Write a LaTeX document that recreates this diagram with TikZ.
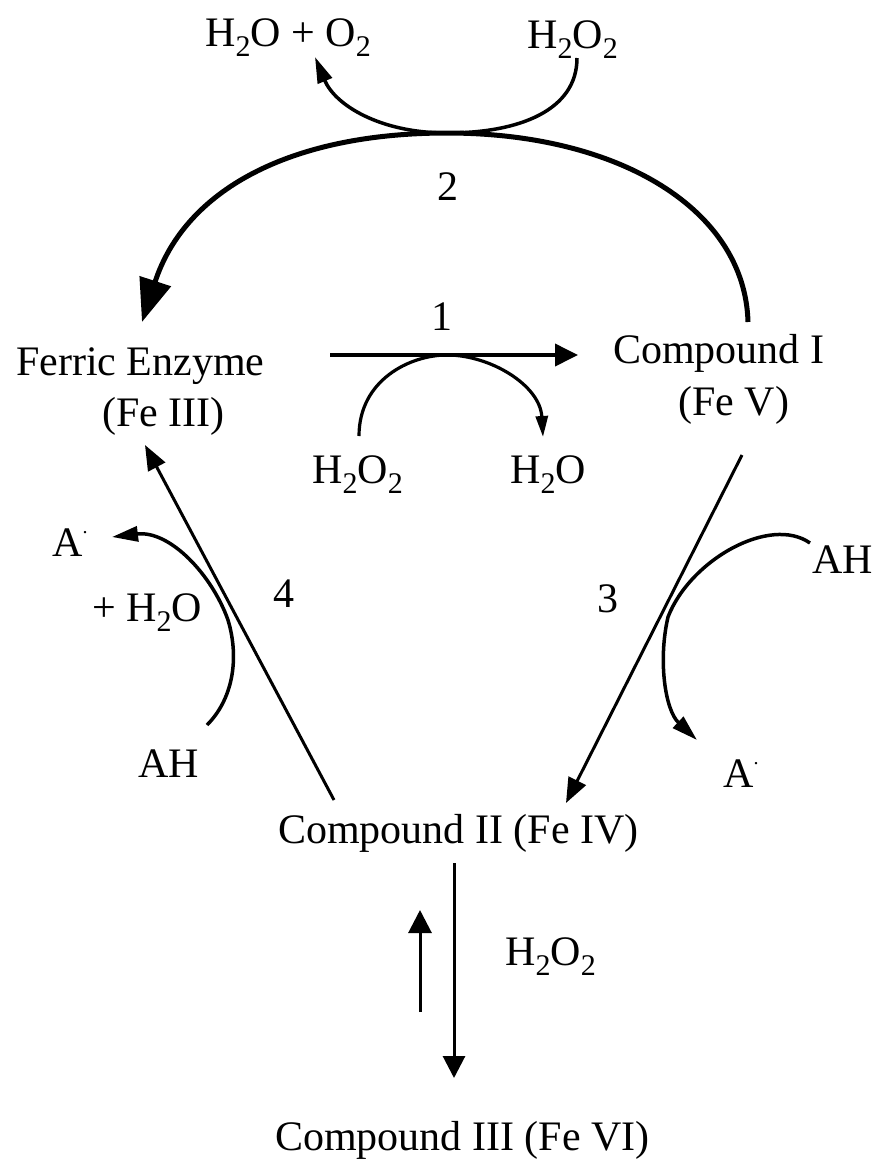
\documentclass[tikz,border=0pt]{standalone}
\usepackage{fontspec}
\setmainfont{Liberation Serif}
\usetikzlibrary{arrows.meta, calc}
\newcommand{\chsub}[1]{\raisebox{-10pt}{\fontsize{30}{30}\selectfont #1}}
\newcommand{\chdot}{\raisebox{23pt}{\fontsize{20}{20}\selectfont .}}
\tikzset{
  chem/.style={
    inner sep=0pt, anchor=base west,
    font=\fontsize{42}{48}\selectfont
  },
  cycle2/.style={-{Triangle[length=43pt, width=32pt]}, line width=5pt},
  main/.style={-{Triangle[length=23pt, width=22pt]}, line width=3.8pt},
  side/.style={-{Triangle[length=25pt, width=19pt]}, line width=3pt},
  curly/.style={-{Triangle[length=26pt, width=15pt]}, line width=3.5pt}
}

\begin{document}
\begin{tikzpicture}[x=1pt, y=-1pt]
\useasboundingbox (0,0) rectangle (872,1160);

% Species
\node[chem] (ferric) at (16,375) {Ferric Enzyme};
\node[chem] (ferric_fe) at (102,426) {(Fe III)};
\node[chem] (cmpI) at (613,363) {Compound I};
\node[chem] (cmpI_fe) at (678,415) {(Fe V)};
\node[chem] (cmpII) at (278,843) {Compound II (Fe IV)};
\node[chem] (cmpIII) at (275,1150) {Compound III (Fe VI)};

% Small molecules
\node[chem] (prod_top) at (205,46) {H\chsub{2}O + O\chsub{2}};
\node[chem] (h2o2_top) at (527,48) {H\chsub{2}O\chsub{2}};
\node[chem] (h2o2_mid) at (312,483) {H\chsub{2}O\chsub{2}};
\node[chem] (h2o_mid) at (510,483) {H\chsub{2}O};
\node[chem] (rad_l) at (52,556) {A\chdot};
\node[chem] (water_l) at (92,621) {+ H\chsub{2}O};
\node[chem] (ah_l) at (138,777) {AH};
\node[chem] (ah_r) at (812,573) {AH};
\node[chem] (rad_r) at (723,787) {A\chdot};
\node[chem] (h2o2_low) at (505,965) {H\chsub{2}O\chsub{2}};

% Step numbers
\node[chem] (lbl_1) at (431,330) {1};
\node[chem] (lbl_2) at (437,200) {2};
\node[chem] (lbl_3) at (597,612) {3};
\node[chem] (lbl_4) at (273,607) {4};

\coordinate (touch_2) at (447,133);
\coordinate (touch_1) at (447,355);

% Step 2: Compound I back to ferric enzyme
\draw[cycle2] ($(cmpI.base west)+(135,-41)$) .. controls (745,210) and (620,133) .. (touch_2)
  .. controls (290,133) and (185,190) .. ($(ferric.base west)+(126,-53)$);
\draw[curly] ($(h2o2_top.base west)+(50,10)$) .. controls (577,110) and (520,133) .. (touch_2)
  .. controls (380,133) and (335,105) .. ($(prod_top.base west)+(110,11)$);

% Step 1: ferric enzyme to Compound I
\draw[main] ($(ferric.base west)+(314,-20)$) -- ($(cmpI.base west)+(-35,-8)$);
\draw[curly, line width=3.2pt, -{Triangle[length=21pt, width=12pt]}] ($(h2o2_mid.base west)+(47,-47)$)
  .. controls (359,380) and (410,355) .. (touch_1)
  .. controls (490,355) and (540,385) .. ($(h2o_mid.base west)+(33,-46)$);

% Step 3: Compound I to Compound II
\draw[side] ($(cmpI_fe.base west)+(64,40)$) -- ($(cmpII.base west)+(288,-40)$);
\draw[curly] ($(ah_r.base west)+(-2,-30)$) .. controls (770,515) and (690,560) .. (668,617)
  .. controls (658,660) and (665,710) .. ($(rad_r.base west)+(-26,-47)$);

% Step 4: Compound II back to ferric enzyme
\draw[side] ($(cmpII.base west)+(56,-43)$) -- ($(ferric_fe.base west)+(43,19)$);
\draw[curly] ($(ah_l.base west)+(69,-52)$) .. controls (232,700) and (240,660) .. (228,620)
  .. controls (212,575) and (170,530) .. ($(rad_l.base west)+(60,-19)$);

% Compound II / Compound III
\draw[side, -{Triangle[length=22pt, width=22pt]}] ($(cmpII.base west)+(176,20)$) -- ($(cmpIII.base west)+(179,-72)$);
\draw[side, -{Triangle[length=23pt, width=23pt]}] ($(h2o2_low.base west)+(-85,47)$) -- ($(cmpII.base west)+(142,67)$);

\end{tikzpicture}
\end{document}
